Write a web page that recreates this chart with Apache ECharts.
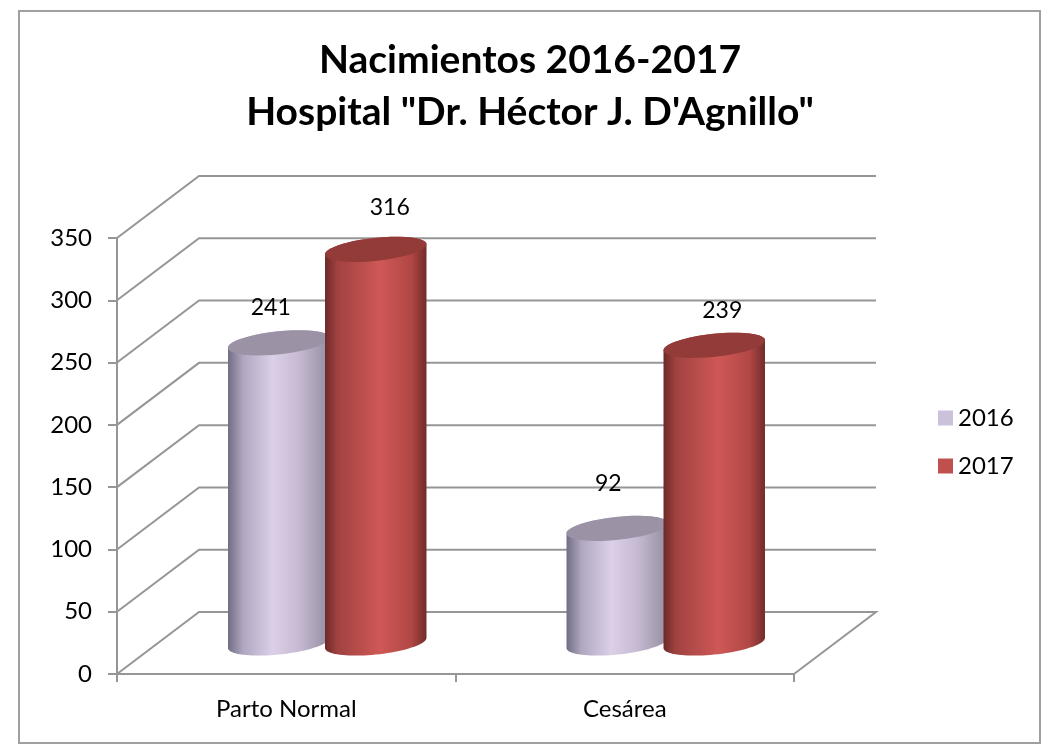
<!DOCTYPE html>
<html>
<head>
<meta charset="utf-8">
<style>html,body{margin:0;padding:0;background:#fff}#main{width:1048px;height:744px}</style>
<script src="https://cdn.jsdelivr.net/npm/echarts@6/dist/echarts.min.js"></script>
</head>
<body>
<div id="main"></div>
<script>
var categories = ['Parto Normal', 'Cesárea'];
var values2016 = [241, 92];
var values2017 = [316, 239];
var gridValues = [0, 50, 100, 150, 200, 250, 300, 350];

// depth of the fake 3d box, px
var depthX = 82;
var depthY = 62;
var lineColor = '#969696';
var fontName = 'Lato, "Open Sans", sans-serif';

// label position relative to the top of each cylinder (hand placed in the original)
var labelShift2016 = [[-8, -35], [-9, -45]];
var labelShift2017 = [[14, -42], [8, -35]];

function renderWall(params, api) {
    var cs = params.coordSys;
    var v = api.value(0);
    var y = api.coord([0, v])[1];
    var x0 = cs.x;
    var x1 = cs.x + cs.width;
    var pts = [[x0, y], [x0 + depthX, y - depthY], [x1 + depthX, y - depthY]];
    if (v === 0) {
        pts.push([x1, y]);
    }
    return {
        type: 'polyline',
        shape: {points: pts},
        style: {fill: null, stroke: lineColor, lineWidth: 2},
        silent: true
    };
}

function ellipseArc(cx, cy, start, end) {
    var a = 51, b = 11.5, th = -6 * Math.PI / 180;
    var pts = [];
    for (var i = 0; i <= 40; i++) {
        var t = start + (end - start) * i / 40;
        pts.push([
            cx + a * Math.cos(t) * Math.cos(th) - b * Math.sin(t) * Math.sin(th),
            cy + a * Math.cos(t) * Math.sin(th) + b * Math.sin(t) * Math.cos(th)
        ]);
    }
    return pts;
}

function makeCylinder(side, stops, topColor, labelShift) {
    return function (params, api) {
        var idx = api.value(0);
        var val = api.value(1);
        var top = api.coord([idx, val]);
        var base = api.coord([idx, 0]);
        var cx = top[0] + depthX / 2 + side * 48.5;
        var topY = top[1] - depthY / 2;
        var baseY = base[1] - depthY / 2;
        var t0 = Math.atan(-(11.5 / 51) * Math.tan(-6 * Math.PI / 180));
        var lower = ellipseArc(cx, baseY, t0, t0 + Math.PI);
        var upper = ellipseArc(cx, topY, t0 + Math.PI, t0 + 2 * Math.PI);
        var shift = labelShift[idx];
        return {
            type: 'group',
            children: [
                {
                    type: 'polygon',
                    shape: {points: lower.concat(upper)},
                    style: {
                        fill: new echarts.graphic.LinearGradient(0, 0, 1, 0, stops)
                    }
                },
                {
                    type: 'polygon',
                    shape: {points: ellipseArc(cx, topY, 0, 2 * Math.PI)},
                    style: {fill: topColor}
                },
                {
                    type: 'text',
                    style: {
                        x: cx + shift[0],
                        y: topY + shift[1],
                        text: String(val),
                        fill: '#000',
                        font: '23px ' + fontName,
                        textAlign: 'center',
                        textVerticalAlign: 'middle'
                    }
                }
            ]
        };
    };
}

var lilaStops = [
    {offset: 0, color: '#716d85'},
    {offset: 0.15, color: '#b1a7c1'},
    {offset: 0.44, color: '#dccfe8'},
    {offset: 0.7, color: '#c6bad2'},
    {offset: 0.95, color: '#9c94a8'},
    {offset: 1, color: '#8a8296'}
];
var redStops = [
    {offset: 0, color: '#6d2928'},
    {offset: 0.12, color: '#a04241'},
    {offset: 0.54, color: '#cf5856'},
    {offset: 0.85, color: '#b04745'},
    {offset: 1, color: '#712c2a'}
];

function toPoints(list) {
    return list.map(function (v, i) { return [i, v]; });
}

var option = {
    backgroundColor: '#fff',
    animation: false,
    title: {
        text: 'Nacimientos 2016-2017\nHospital "Dr. Héctor J. D\'Agnillo"',
        left: 525,
        top: 29,
        textAlign: 'center',
        textStyle: {
            fontFamily: fontName,
            fontSize: 39,
            fontWeight: 'bold',
            color: '#000',
            lineHeight: 52
        }
    },
    legend: {
        orient: 'vertical',
        left: 933,
        top: 401,
        itemWidth: 15,
        itemHeight: 15,
        itemGap: 24,
        icon: 'rect',
        data: ['2016', '2017'],
        textStyle: {fontFamily: fontName, fontSize: 24, color: '#000'}
    },
    grid: {left: 117, top: 238, width: 677, height: 436},
    xAxis: {
        type: 'category',
        data: categories,
        axisLine: {lineStyle: {color: lineColor, width: 2}},
        axisTick: {show: true, length: 8, lineStyle: {color: lineColor, width: 2}},
        axisLabel: {fontFamily: fontName, fontSize: 24, color: '#000', margin: 23}
    },
    yAxis: {
        type: 'value',
        min: 0,
        max: 350,
        interval: 50,
        splitLine: {show: false},
        axisLine: {show: true, lineStyle: {color: lineColor, width: 2}},
        axisTick: {show: true, length: 9, lineStyle: {color: lineColor, width: 2}},
        axisLabel: {fontFamily: fontName, fontSize: 24, color: '#000', margin: 25, padding: [7, 0, 0, 0]}
    },
    series: [
        {
            type: 'custom',
            name: 'walls',
            renderItem: renderWall,
            data: gridValues.map(function (v) { return [v]; }),
            encode: {y: 0},
            silent: true
        },
        {
            type: 'custom',
            name: '2016',
            itemStyle: {color: '#ccc1da'},
            renderItem: makeCylinder(-1, lilaStops, '#9c92a6', labelShift2016),
            data: toPoints(values2016),
            encode: {x: 0, y: 1}
        },
        {
            type: 'custom',
            name: '2017',
            itemStyle: {color: '#c0504d'},
            renderItem: makeCylinder(1, redStops, '#933b38', labelShift2017),
            data: toPoints(values2017),
            encode: {x: 0, y: 1}
        }
    ],
    graphic: [{
        type: 'rect',
        shape: {x: 19, y: 11, width: 1021, height: 732},
        style: {fill: null, stroke: '#a0a0a0', lineWidth: 2},
        silent: true
    }]
};

var myChart = echarts.init(document.getElementById('main'));
myChart.setOption(option);
</script>
</body>
</html>
